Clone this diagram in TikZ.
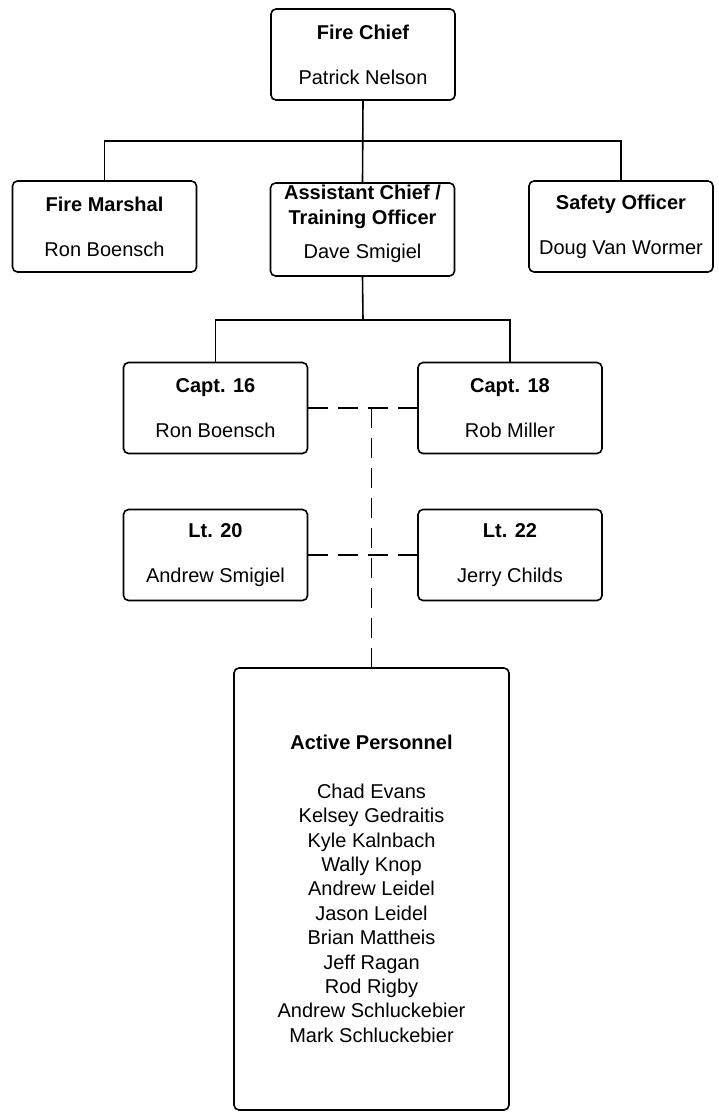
\documentclass[tikz,border=0pt]{standalone}
\usepackage{fontspec}
\setmainfont{Liberation Sans}
\usetikzlibrary{positioning}

\begin{document}
\begin{tikzpicture}[x=1pt, y=-1pt,
        % Node styles
        member/.style={draw=black, fill=white, line width=1.6pt, rounded corners=5pt, minimum width=184pt, minimum height=91pt, inner sep=0pt, align=center, font=\fontsize{20}{25}\selectfont},
        personnel/.style={member, minimum width=275pt, minimum height=442pt, font=\fontsize{20}{24.4}\selectfont},
        % Connector styles
        link/.style={line width=1.6pt, black},
        dashlink/.style={line width=1.6pt, black, dash pattern=on 20pt off 10pt}
    ]
    \useasboundingbox (0,0) rectangle (719,1120);

    % Chief and staff
    \node[member] (chief) at (363, 54.5) {\textbf{Fire Chief}\\[20pt]Patrick Nelson};
    \node[member] (marshal) at (104.5, 226.5) {\textbf{Fire Marshal}\\[20pt]Ron Boensch};
    \node[member, minimum height=93pt, text depth=16pt] (asst) at (362.5, 229.5) {\textbf{Assistant Chief /}\\\textbf{Training Officer}\\[9pt]Dave Smigiel};
    \node[member] (safety) at (621, 226.5) {\textbf{Safety Officer}\\[20pt]Doug Van Wormer};

    % Captains
    \node[member] (capt16) at (215.5, 408) {\textbf{Capt. 16}\\[20pt]Ron Boensch};
    \node[member] (capt18) at (510, 408) {\textbf{Capt. 18}\\[20pt]Rob Miller};

    % Lieutenants
    \node[member] (lt20) at (215.5, 555) {\textbf{Lt. 20}\\[20pt]Andrew Smigiel};
    \node[member] (lt22) at (510, 555) {\textbf{Lt. 22}\\[20pt]Jerry Childs};

    % Personnel
    \node[personnel] (active) at (371.5, 889) {\textbf{Active Personnel}\\[24pt]
        Chad Evans\\Kelsey Gedraitis\\Kyle Kalnbach\\Wally Knop\\Andrew Leidel\\Jason Leidel\\
        Brian Mattheis\\Jeff Ragan\\Rod Rigby\\Andrew Schluckebier\\Mark Schluckebier};

    % Junctions
    \coordinate (j1) at (363, 141);
    \coordinate (j2) at (363, 320);
    \coordinate (j3) at (capt16.east -| active.north);

    % Solid connectors
    \draw[link] (chief.south) -- (asst.north);
    \draw[link] (marshal.north) |- (j1) -| (safety.north);
    \draw[link] (asst.south) -- (j2);
    \draw[link] (capt16.north) |- (j2) -| (capt18.north);

    % Dashed connectors
    \draw[dashlink] (capt16.east) -- (capt18.west);
    \draw[dashlink] (lt20.east) -- (lt22.west);
    \draw[dashlink] (j3) -- (active.north);

\end{tikzpicture}
\end{document}
